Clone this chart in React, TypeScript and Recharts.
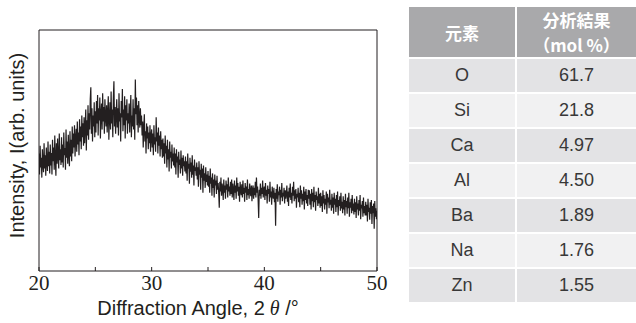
import React from 'react';
import { LineChart, Line, XAxis, YAxis, Label } from 'recharts';

// XRD scan: 20 -> 50 deg, 0.05 deg step, one row = one degree
const startAngle = 20;
const stepAngle = 0.05;
const intensity = [
  1.95, 1.60, 2.08, 1.72, 1.88, 1.55, 2.02, 1.78, 1.64, 2.12, 1.70, 1.92, 1.58, 2.05, 1.80, 1.66, 2.15, 1.74, 1.98, 1.62,
  2.10, 1.75, 1.96, 1.60, 2.18, 1.82, 2.05, 1.68, 2.25, 1.85, 1.58, 2.12, 1.78, 2.20, 1.90, 1.70, 2.28, 1.84, 2.02, 1.76,
  2.22, 1.80, 2.10, 1.72, 2.30, 1.92, 2.04, 1.68, 2.35, 1.88, 2.15, 1.78, 2.26, 1.95, 1.74, 2.32, 1.90, 2.18, 1.82, 2.40,
  1.95, 2.28, 2.05, 2.42, 1.90, 2.20, 2.36, 1.98, 2.48, 2.10, 2.30, 1.92, 2.52, 2.15, 2.40, 2.02, 2.58, 2.22, 2.45, 2.08,
  2.55, 2.12, 2.40, 2.68, 2.00, 2.50, 2.25, 2.75, 2.18, 2.62, 2.35, 2.85, 3.05, 2.28, 2.70, 2.15, 2.58, 2.40, 2.80, 2.22,
  2.65, 2.30, 2.82, 2.45, 2.92, 2.25, 2.70, 2.50, 2.88, 2.20, 2.60, 2.78, 2.35, 2.95, 2.48, 2.72, 2.28, 2.85, 2.55, 2.40,
  2.75, 2.30, 2.62, 2.90, 2.18, 2.55, 2.80, 2.35, 2.98, 2.45, 2.68, 2.22, 2.88, 3.15, 2.40, 2.72, 2.28, 2.60, 2.85, 2.38,
  2.70, 2.25, 2.95, 2.48, 2.62, 2.15, 2.82, 2.55, 3.02, 2.32, 2.68, 2.42, 2.90, 2.20, 2.75, 2.50, 2.85, 2.28, 2.62, 2.45,
  2.78, 2.30, 2.65, 2.92, 2.22, 2.58, 2.40, 2.85, 2.35, 2.70, 2.18, 3.18, 2.60, 2.88, 2.42, 2.75, 2.30, 2.82, 2.55, 2.38,
  2.70, 2.42, 2.58, 2.25, 2.48, 2.05, 2.38, 2.60, 2.15, 2.32, 1.95, 2.45, 2.20, 2.40, 2.02, 2.30, 2.12, 2.42, 1.98, 2.25,
  2.35, 2.05, 2.28, 1.92, 2.42, 2.10, 2.22, 1.98, 2.55, 2.15, 2.30, 1.95, 2.38, 2.08, 2.25, 1.90, 2.32, 2.02, 2.18, 1.88,
  2.20, 1.90, 2.12, 1.78, 2.25, 1.95, 2.08, 1.72, 2.18, 1.85, 2.02, 1.65, 2.15, 1.88, 1.98, 1.70, 2.10, 1.82, 1.95, 1.75,
  2.05, 1.72, 1.95, 1.60, 2.02, 1.80, 1.90, 1.55, 1.98, 1.76, 1.85, 1.62, 2.00, 1.70, 1.88, 1.58, 1.92, 1.74, 1.82, 1.65,
  1.90, 1.62, 1.82, 1.50, 1.95, 1.70, 1.78, 1.45, 1.88, 1.65, 1.80, 1.55, 1.92, 1.60, 1.75, 1.42, 1.85, 1.66, 1.72, 1.58,
  1.80, 1.52, 1.72, 1.40, 1.82, 1.60, 1.68, 1.35, 1.78, 1.55, 1.70, 1.30, 1.75, 1.50, 1.62, 1.38, 1.72, 1.48, 1.60, 1.42,
  1.66, 1.40, 1.58, 1.30, 1.70, 1.45, 1.55, 1.25, 1.62, 1.38, 1.52, 1.22, 1.60, 1.42, 1.50, 1.28, 1.58, 1.35, 1.46, 1.30,
  1.05, 1.48, 1.32, 1.55, 1.25, 1.45, 1.38, 1.18, 1.52, 1.30, 1.42, 1.20, 1.50, 1.35, 1.44, 1.22, 1.55, 1.32, 1.40, 1.25,
  1.48, 1.28, 1.52, 1.22, 1.45, 1.35, 1.18, 1.50, 1.30, 1.42, 1.20, 1.55, 1.32, 1.46, 1.25, 1.40, 1.15, 1.48, 1.34, 1.26,
  1.44, 1.22, 1.50, 1.28, 1.38, 1.15, 1.46, 1.30, 1.40, 1.18, 1.52, 1.26, 1.36, 1.20, 1.45, 1.32, 1.24, 1.42, 1.16, 1.35,
  1.42, 1.20, 1.38, 1.26, 1.48, 1.22, 1.55, 1.30, 1.40, 1.18, 0.88, 1.35, 1.25, 1.45, 1.20, 1.38, 1.28, 1.50, 1.22, 1.34,
  1.40, 1.18, 1.46, 1.25, 1.35, 1.12, 1.42, 1.28, 1.36, 1.15, 1.48, 1.22, 1.32, 1.10, 1.40, 1.26, 1.20, 1.38, 1.14, 1.30,
  0.75, 1.36, 1.20, 1.44, 1.15, 1.32, 1.26, 1.40, 1.10, 1.35, 1.22, 1.46, 1.16, 1.30, 1.24, 1.38, 1.12, 1.34, 1.20, 1.28,
  1.42, 1.15, 1.32, 1.08, 1.38, 1.22, 1.45, 1.18, 1.30, 1.12, 1.40, 1.25, 1.48, 1.16, 1.34, 1.20, 1.36, 1.05, 1.28, 1.22,
  1.38, 1.14, 1.30, 1.06, 1.42, 1.20, 1.34, 1.10, 1.28, 1.16, 1.40, 1.02, 1.32, 1.18, 1.36, 1.12, 1.26, 1.08, 1.35, 1.20,
  1.34, 1.10, 1.28, 1.02, 1.36, 1.16, 1.30, 1.06, 1.40, 1.14, 1.26, 1.00, 1.32, 1.18, 1.24, 1.08, 1.38, 1.12, 1.28, 1.05,
  1.30, 1.08, 1.24, 0.98, 1.34, 1.12, 1.26, 1.02, 1.20, 1.10, 1.32, 0.95, 1.28, 1.14, 1.22, 1.04, 1.35, 1.10, 1.18, 1.00,
  1.28, 1.05, 1.22, 0.95, 1.30, 1.10, 1.20, 0.98, 1.26, 1.06, 1.32, 0.92, 1.18, 1.08, 1.24, 1.00, 1.30, 1.04, 1.15, 0.96,
  1.24, 1.02, 1.18, 0.92, 1.28, 1.06, 1.16, 0.95, 1.22, 1.04, 1.30, 0.90, 1.14, 1.05, 1.20, 0.96, 1.26, 1.00, 1.12, 0.94,
  1.20, 0.98, 1.14, 0.88, 1.24, 1.02, 1.12, 0.92, 1.18, 1.00, 1.26, 0.86, 1.10, 1.04, 1.16, 0.90, 1.22, 0.96, 1.08, 0.92,
  1.15, 0.92, 1.10, 0.82, 1.20, 0.98, 1.05, 0.85, 1.14, 0.95, 1.18, 0.78, 1.08, 0.96, 1.12, 0.70, 1.16, 0.90, 1.04, 0.86,
  1.00,
];
const xTicks = [20, 25, 30, 35, 40, 45, 50];
const yTicks = [1, 2, 3];

const elements = ['O', 'Si', 'Ca', 'Al', 'Ba', 'Na', 'Zn'];
const molPercent = ['61.7', '21.8', '4.97', '4.50', '1.89', '1.76', '1.55'];

const data = intensity.map((v, i) => ({
  angle: Math.round((startAngle + i * stepAngle) * 100) / 100,
  v,
}));

const sans = '"Liberation Sans", Arial, sans-serif';
const serif = '"Liberation Serif", "Times New Roman", serif';
const cjk = '"Noto Sans CJK JP", sans-serif';
const frame = '#231f20';

const XTitle = (props: any) => {
  const vb = props.viewBox;
  return (
    <text x={vb.x + vb.width / 2 - 10} y={315} textAnchor="middle" fontFamily={sans} fontSize={20} fill="#231f20">
      Diffraction Angle, 2<tspan fontFamily={serif} fontStyle="italic"> θ</tspan> /°
    </text>
  );
};

const YTitle = (props: any) => {
  const vb = props.viewBox;
  const cx = 17;
  const cy = vb.y + vb.height / 2 - 5;
  return (
    <text x={cx} y={cy} transform={`rotate(-90 ${cx} ${cy})`} textAnchor="middle" dominantBaseline="central"
      fontFamily={sans} fontSize={20} fill="#231f20">
      Intensity, I(arb. units)
    </text>
  );
};

const cell: React.CSSProperties = {
  textAlign: 'center',
  color: '#383838',
  fontFamily: sans,
  fontSize: 18,
  height: 33,
  padding: 0,
  borderBottom: '2px solid #fff',
};

const head: React.CSSProperties = {
  color: '#fff',
  fontFamily: cjk,
  fontSize: 17,
  fontWeight: 700,
  padding: 0,
  borderBottom: '2px solid #fff',
};

export default function App() {
  return (
    <div style={{ position: 'absolute', left: 0, top: 0, width: 636, height: 323, background: '#fff' }}>
      <LineChart width={400} height={323} data={data} margin={{ top: 30, right: 23, bottom: 22, left: 39 }}>
        <XAxis
          xAxisId="b"
          dataKey="angle"
          type="number"
          domain={[20, 50]}
          ticks={xTicks}
          tickFormatter={(t: number) => (t % 10 === 0 ? String(t) : '')}
          tickSize={-4}
          tickMargin={8}
          height={30}
          stroke={frame}
          tick={{ fill: '#231f20', fontFamily: serif, fontSize: 21 }}
          allowDataOverflow
        >
          <Label content={<XTitle />} />
        </XAxis>
        <XAxis
          xAxisId="t"
          orientation="top"
          dataKey="angle"
          type="number"
          domain={[20, 50]}
          ticks={xTicks}
          tick={false}
          tickSize={4}
          mirror
          height={1}
          stroke={frame}
          allowDataOverflow
        />
        <YAxis
          yAxisId="l"
          domain={[0, 4]}
          ticks={yTicks}
          tick={false}
          tickSize={4}
          mirror
          width={1}
          stroke={frame}
          allowDataOverflow
        >
          <Label content={<YTitle />} />
        </YAxis>
        <YAxis
          yAxisId="r"
          orientation="right"
          domain={[0, 4]}
          ticks={yTicks}
          tick={false}
          tickSize={4}
          mirror
          width={1}
          stroke={frame}
          allowDataOverflow
        />
        <Line
          xAxisId="b"
          yAxisId="l"
          dataKey="v"
          stroke="#231f20"
          strokeWidth={1.2}
          dot={false}
          isAnimationActive={false}
        />
      </LineChart>
      <table
        style={{
          position: 'absolute',
          left: 409,
          top: 7,
          width: 227,
          borderCollapse: 'separate',
          borderSpacing: 0,
        }}
      >
        <thead>
          <tr style={{ background: '#a9a9ab' }}>
            <th style={{ ...head, width: 106, height: 50, borderRight: '2px solid #fff' }}>元素</th>
            <th style={{ ...head, height: 50 }}>
              <div style={{ lineHeight: '25px', height: 25 }}>分析結果</div>
              <div style={{ lineHeight: '25px', height: 25 }}>（mol %）</div>
            </th>
          </tr>
        </thead>
        <tbody>
          {elements.map((el, i) => (
            <tr key={el} style={{ background: i % 2 === 0 ? '#e3e3e5' : '#f1f1f2' }}>
              <td style={{ ...cell, borderRight: '2px solid #fff' }}>{el}</td>
              <td style={cell}>{molPercent[i]}</td>
            </tr>
          ))}
        </tbody>
      </table>
    </div>
  );
}
